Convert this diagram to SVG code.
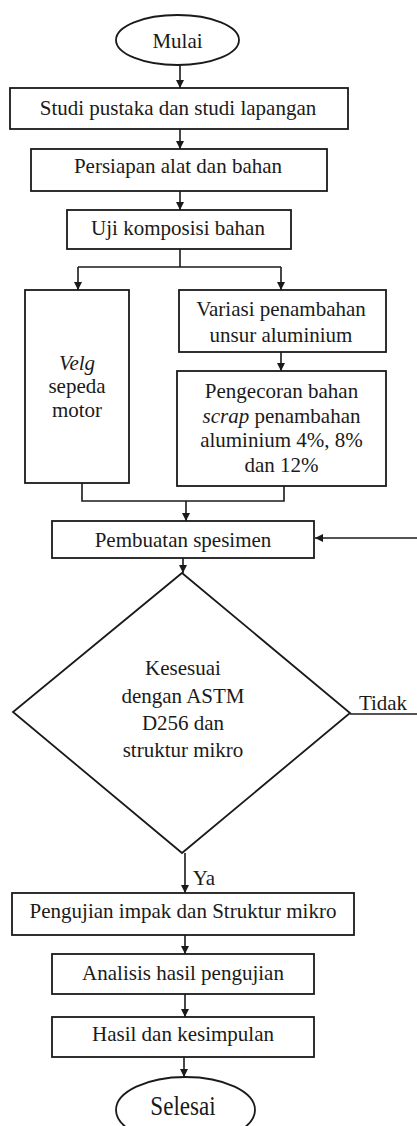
<svg xmlns="http://www.w3.org/2000/svg" width="417" height="1126" viewBox="0 0 417 1126">
<style>
.s{fill:#fff;stroke:#1a1a1a;stroke-width:1.8}
.c{fill:none;stroke:#1a1a1a;stroke-width:1.6}
.t{font-family:'Liberation Serif','DejaVu Serif',serif;font-size:21px;fill:#1a1a1a;text-anchor:middle}
.i{font-style:italic}
</style>
<defs>
<marker id="ah" viewBox="0 0 10 10" refX="10" refY="5" markerWidth="8" markerHeight="8" markerUnits="userSpaceOnUse" orient="auto">
<path d="M0,0 L10,5 L0,10 z" fill="#1a1a1a"/>
</marker>
</defs>
<rect width="417" height="1126" fill="#fff"/>
<g id="connectors">
<line class="c" x1="180" y1="65" x2="180" y2="88" marker-end="url(#ah)"/>
<line class="c" x1="180" y1="129" x2="180" y2="149" marker-end="url(#ah)"/>
<line class="c" x1="180" y1="191" x2="180" y2="210" marker-end="url(#ah)"/>
<polyline class="c" points="180,249 180,267"/>
<polyline class="c" points="78,267 281,267"/>
<line class="c" x1="78" y1="267" x2="78" y2="290" marker-end="url(#ah)"/>
<line class="c" x1="281" y1="267" x2="281" y2="290" marker-end="url(#ah)"/>
<line class="c" x1="281" y1="352" x2="281" y2="371" marker-end="url(#ah)"/>
<polyline class="c" points="82,483 82,501 284,501 284,486"/>
<line class="c" x1="186" y1="501" x2="186" y2="521" marker-end="url(#ah)"/>
<line class="c" x1="417" y1="538" x2="315" y2="538" marker-end="url(#ah)"/>
<line class="c" x1="183" y1="558" x2="183" y2="573" marker-end="url(#ah)"/>
<line class="c" x1="350" y1="714" x2="417" y2="714"/>
<line class="c" x1="185" y1="853" x2="185" y2="893" marker-end="url(#ah)"/>
<line class="c" x1="185" y1="935" x2="185" y2="954" marker-end="url(#ah)"/>
<line class="c" x1="185" y1="994" x2="185" y2="1017" marker-end="url(#ah)"/>
<line class="c" x1="184" y1="1057" x2="184" y2="1077" marker-end="url(#ah)"/>
<text class="t" x="383" y="710">Tidak</text>
<text class="t" x="204" y="885">Ya</text>
</g>
<g id="mulai">
<ellipse class="s" cx="177.5" cy="40" rx="61.5" ry="25"/>
<text class="t" x="177.5" y="48">Mulai</text>
</g>
<g id="studi">
<rect class="s" x="10" y="88" width="338" height="41"/>
<text class="t" x="178" y="115">Studi pustaka dan studi lapangan</text>
</g>
<g id="persiapan">
<rect class="s" x="31" y="149" width="296" height="42"/>
<text class="t" x="178" y="173">Persiapan alat dan bahan</text>
</g>
<g id="uji">
<rect class="s" x="67" y="210" width="224" height="39"/>
<text class="t" x="178" y="235">Uji komposisi bahan</text>
</g>
<g id="velg">
<rect class="s" x="25" y="290" width="104" height="193"/>
<text class="t i" x="77" y="370">Velg</text>
<text class="t" x="77" y="393">sepeda</text>
<text class="t" x="77" y="417">motor</text>
</g>
<g id="variasi">
<rect class="s" x="179" y="290" width="207" height="62"/>
<text class="t" x="281" y="316">Variasi penambahan</text>
<text class="t" x="281" y="342">unsur aluminium</text>
</g>
<g id="pengecoran">
<rect class="s" x="177" y="371" width="209" height="115"/>
<text class="t" x="281.5" y="398">Pengecoran bahan</text>
<text class="t" x="281.5" y="423"><tspan class="i">scrap</tspan> penambahan</text>
<text class="t" x="281.5" y="447">aluminium 4%, 8%</text>
<text class="t" x="281.5" y="472">dan 12%</text>
</g>
<g id="pembuatan">
<rect class="s" x="52" y="521" width="262" height="37"/>
<text class="t" x="183" y="547">Pembuatan spesimen</text>
</g>
<g id="kesesuai">
<polygon class="s" points="182,573 350,713 182,853 13,712"/>
<text class="t" x="183" y="675">Kesesuai</text>
<text class="t" x="183" y="703">dengan ASTM</text>
<text class="t" x="183" y="730">D256 dan</text>
<text class="t" x="183" y="757">struktur mikro</text>
</g>
<g id="pengujian">
<rect class="s" x="12" y="893" width="342" height="42"/>
<text class="t" x="183" y="918">Pengujian impak dan Struktur mikro</text>
</g>
<g id="analisis">
<rect class="s" x="52" y="954" width="262" height="40"/>
<text class="t" x="183" y="980">Analisis hasil pengujian</text>
</g>
<g id="hasil">
<rect class="s" x="52" y="1017" width="262" height="40"/>
<text class="t" x="183" y="1041">Hasil dan kesimpulan</text>
</g>
<g id="selesai">
<ellipse class="s" cx="185.5" cy="1110" rx="69.5" ry="33"/>
<text class="t" transform="translate(183,1115) scale(1.1,1.3)" x="0" y="0">Selesai</text>
</g>
</svg>
